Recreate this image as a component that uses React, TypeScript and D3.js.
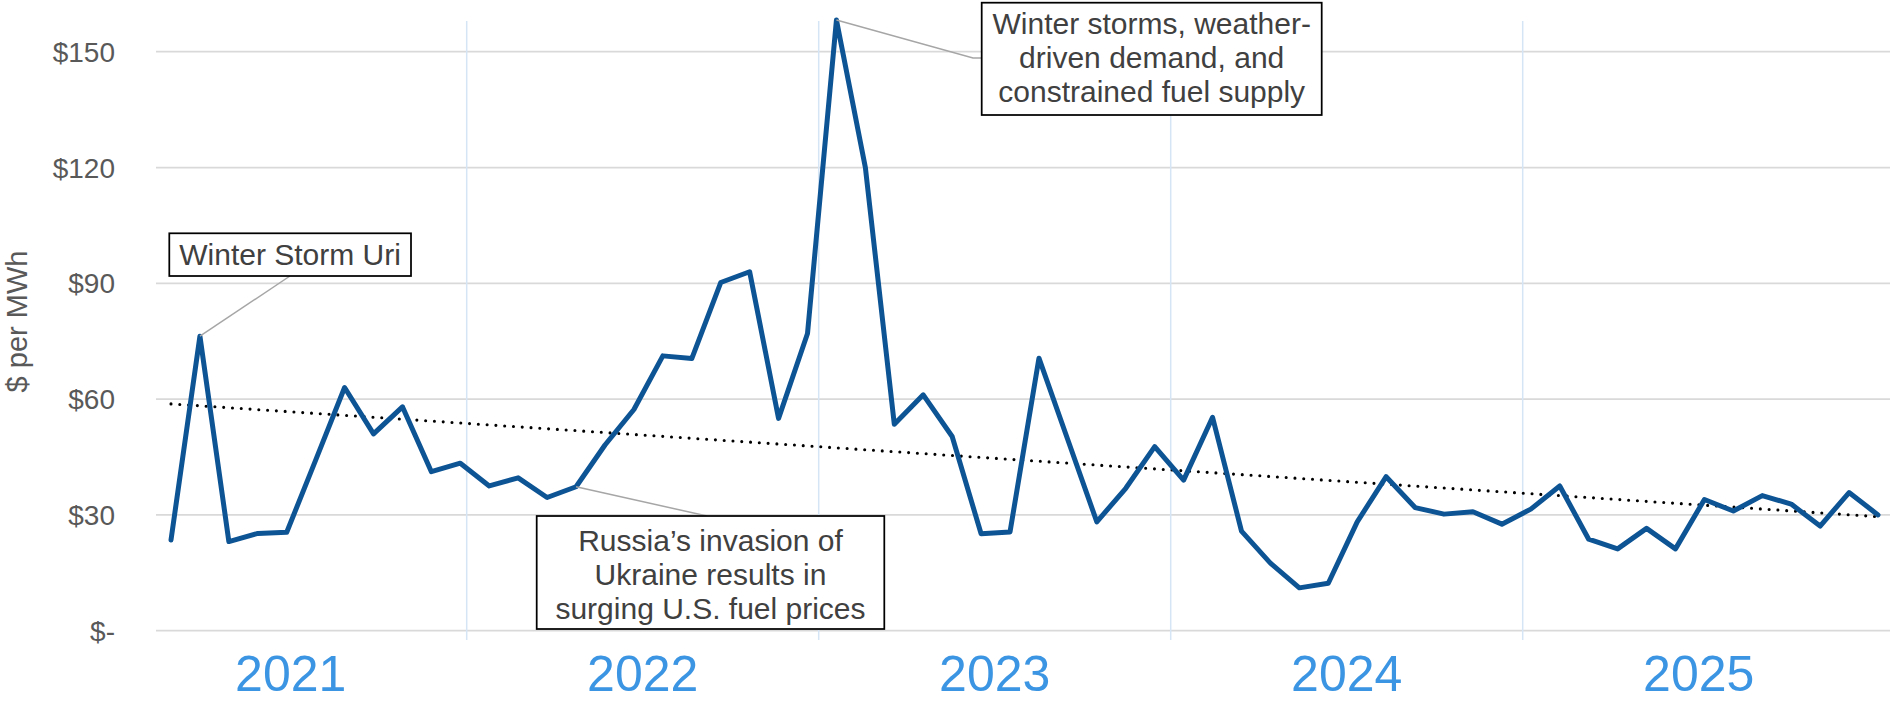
import React from "react";
import * as d3 from "d3";

// ---- data ----
const months = [
  "2021-01","2021-02","2021-03","2021-04","2021-05","2021-06","2021-07","2021-08","2021-09","2021-10","2021-11","2021-12",
  "2022-01","2022-02","2022-03","2022-04","2022-05","2022-06","2022-07","2022-08","2022-09","2022-10","2022-11","2022-12",
  "2023-01","2023-02","2023-03","2023-04","2023-05","2023-06","2023-07","2023-08","2023-09","2023-10","2023-11","2023-12",
  "2024-01","2024-02","2024-03","2024-04","2024-05","2024-06","2024-07","2024-08","2024-09","2024-10","2024-11","2024-12",
  "2025-01","2025-02","2025-03","2025-04","2025-05","2025-06","2025-07","2025-08","2025-09","2025-10","2025-11","2025-12",
];
const prices = [
  23.5, 76.3, 23.1, 25.2, 25.5, 44.2, 63.0, 51.0, 58.0, 41.2,
  43.4, 37.5, 39.6, 34.5, 37.3, 48.1, 57.3, 71.2, 70.5, 90.2,
  93.0, 55.0, 77.0, 158.2, 120.0, 53.5, 61.1, 50.3, 25.1, 25.6,
  70.6, 49.4, 28.2, 36.9, 47.7, 39.0, 55.3, 25.8, 17.5, 11.1,
  12.3, 28.2, 39.9, 31.9, 30.2, 30.8, 27.6, 31.5, 37.5, 23.7,
  21.2, 26.5, 21.2, 34.0, 31.0, 35.0, 32.8, 27.1, 35.8, 30.0,
];
const yearLabels = ["2021", "2022", "2023", "2024", "2025"];
const yTicks = [0, 30, 60, 90, 120, 150];
const yAxisTitle = "$ per MWh";

const annoUriLines = ["Winter Storm Uri"];
const annoUriMonth = "2021-02";
const annoStormLines = ["Winter storms, weather-", "driven demand, and", "constrained fuel supply"];
const annoStormMonth = "2022-12";
const annoRussiaLines = ["Russia\u2019s invasion of", "Ukraine results in", "surging U.S. fuel prices"];
const annoRussiaMonth = "2022-03";

// ---- layout ----
const W = 1890;
const H = 702;
const gridLeft = 156;
const gridRight = 1890;
const font = "'Liberation Sans', Arial, Helvetica, sans-serif";

function fmtTick(v: number) {
  return v === 0 ? "$-" : "$" + v;
}

export default function App() {
  const x = d3.scalePoint<string>().domain(months).range([171, 1878]);
  const y = d3.scaleLinear().domain([0, 150]).range([630.7, 51.7]);
  const yearBand = d3.scaleBand<string>().domain(yearLabels).range([114.7, 1874.7]).padding(0);

  const line = d3
    .line<number>()
    .x((_, i) => x(months[i]) as number)
    .y((d) => y(d));

  // least-squares linear trend
  const n = prices.length;
  const idx = d3.range(n);
  const mx = d3.mean(idx) as number;
  const my = d3.mean(prices) as number;
  const sxy = d3.sum(idx, (i) => (i - mx) * (prices[i] - my));
  const sxx = d3.sum(idx, (i) => (i - mx) * (i - mx));
  const slope = sxy / sxx;
  const intercept = my - slope * mx;
  const trendStart = intercept;
  const trendEnd = intercept + slope * (n - 1);

  const pt = (m: string) => {
    const i = months.indexOf(m);
    return [x(m) as number, y(prices[i])];
  };
  const uriPt = pt(annoUriMonth);
  const stormPt = pt(annoStormMonth);
  const russiaPt = pt(annoRussiaMonth);

  const dividers = yearLabels.slice(1).map((yr) => yearBand(yr) as number);

  const textStyle = { fontFamily: font, fontSize: 30, fill: "#404040" } as const;

  return (
    <svg
      width={W}
      height={H}
      style={{ position: "absolute", left: 0, top: 0, display: "block", background: "#fff" }}
    >
      {/* horizontal gridlines */}
      {yTicks.map((t) => (
        <line key={t} x1={gridLeft} x2={gridRight} y1={y(t)} y2={y(t)} stroke="#d9d9d9" strokeWidth={1.75} />
      ))}
      {/* year dividers */}
      {dividers.map((dx, i) => (
        <line key={i} x1={dx} x2={dx} y1={21} y2={640} stroke="#d5e5f5" strokeWidth={1.5} />
      ))}
      {/* y tick labels */}
      {yTicks.map((t) => (
        <text
          key={t}
          x={115}
          y={y(t) + 10}
          textAnchor="end"
          style={{ fontFamily: font, fontSize: 28, fill: "#595959" }}
        >
          {fmtTick(t)}
        </text>
      ))}
      {/* y axis title */}
      <text
        transform={`translate(27, 321.5) rotate(-90)`}
        textAnchor="middle"
        style={{ fontFamily: font, fontSize: 29, fill: "#595959" }}
      >
        {yAxisTitle}
      </text>
      {/* year labels */}
      {yearLabels.map((yr) => (
        <text
          key={yr}
          x={(yearBand(yr) as number) + yearBand.bandwidth() / 2}
          y={691}
          textAnchor="middle"
          style={{ fontFamily: font, fontSize: 50, fill: "#3c95e3" }}
        >
          {yr}
        </text>
      ))}
      {/* trend line */}
      <line
        x1={x(months[0]) as number}
        x2={x(months[n - 1]) as number}
        y1={y(trendStart)}
        y2={y(trendEnd)}
        stroke="#000"
        strokeWidth={3.1}
        strokeDasharray="0 8.8"
        strokeLinecap="round"
      />
      {/* main series */}
      <path
        d={line(prices) as string}
        fill="none"
        stroke="#0d5495"
        strokeWidth={5}
        strokeLinejoin="round"
        strokeLinecap="round"
      />
      {/* annotation leaders */}
      <line x1={uriPt[0]} y1={uriPt[1]} x2={290} y2={276} stroke="#a6a6a6" strokeWidth={1.5} />
      <polyline
        points={`${stormPt[0]},${stormPt[1]} 973,58 982,58`}
        fill="none"
        stroke="#a6a6a6"
        strokeWidth={1.5}
      />
      <line x1={russiaPt[0]} y1={russiaPt[1]} x2={707} y2={516} stroke="#a6a6a6" strokeWidth={1.5} />
      {/* annotation boxes */}
      <g>
        <rect x={169.3} y={233.3} width={241.7} height={42.7} fill="#fff" stroke="#000" strokeWidth={1.75} />
        {annoUriLines.map((l, i) => (
          <text key={i} x={290.1} y={265 + i * 34.2} textAnchor="middle" style={textStyle}>
            {l}
          </text>
        ))}
      </g>
      <g>
        <rect x={981.7} y={2.7} width={340} height={112.3} fill="#fff" stroke="#000" strokeWidth={1.75} />
        {annoStormLines.map((l, i) => (
          <text key={i} x={1151.7} y={33.5 + i * 34.2} textAnchor="middle" style={textStyle}>
            {l}
          </text>
        ))}
      </g>
      <g>
        <rect x={536.7} y={516} width={347.6} height={113} fill="#fff" stroke="#000" strokeWidth={1.75} />
        {annoRussiaLines.map((l, i) => (
          <text key={i} x={710.5} y={550.5 + i * 34.2} textAnchor="middle" style={textStyle}>
            {l}
          </text>
        ))}
      </g>
    </svg>
  );
}
